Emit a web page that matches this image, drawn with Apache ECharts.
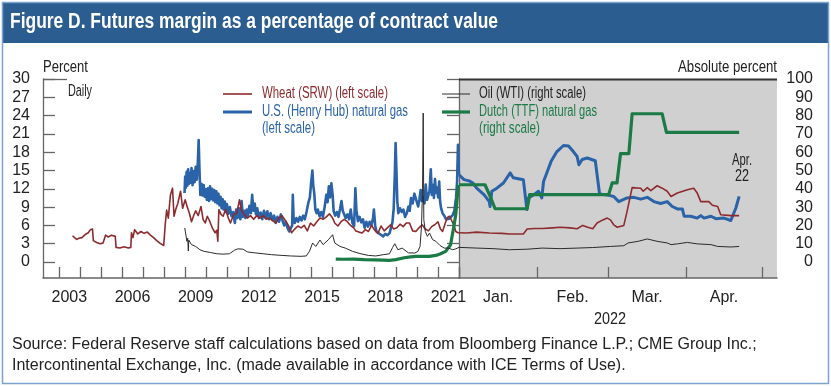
<!DOCTYPE html>
<html><head><meta charset="utf-8">
<script src="https://cdn.jsdelivr.net/npm/echarts@6/dist/echarts.min.js"></script>
<style>html,body{margin:0;padding:0;background:#fff}#c{width:831px;height:386px}</style>
</head><body><div id="c"></div>
<script>
// ---------- DATA ----------
// Historical segment: [year (fractional), value]
const wheatHist = [[2003.65,4.3],[2003.75,4.0],[2003.85,3.7],[2003.95,3.9],[2004.1,4.0],[2004.25,4.5],[2004.4,4.8],[2004.5,5.3],[2004.6,5.4],[2004.64,3.5],[2004.8,3.2],[2004.95,3.0],[2005.1,3.1],[2005.22,4.4],[2005.35,4.1],[2005.5,4.4],[2005.68,4.2],[2005.72,2.4],[2005.9,2.3],[2006.1,2.5],[2006.3,2.3],[2006.42,2.4],[2006.45,4.8],[2006.52,4.0],[2006.6,5.3],[2006.75,4.6],[2006.9,5.0],[2007.05,4.7],[2007.2,4.9],[2007.35,4.4],[2007.5,4.0],[2007.65,3.5],[2007.8,3.1],[2007.98,2.7],[2008.05,6.0],[2008.12,8.5],[2008.2,7.2],[2008.3,11.0],[2008.4,12.1],[2008.47,7.5],[2008.55,8.6],[2008.65,9.6],[2008.78,11.6],[2008.88,8.8],[2009.0,10.2],[2009.1,9.0],[2009.2,8.0],[2009.3,6.6],[2009.4,7.6],[2009.5,8.4],[2009.62,7.6],[2009.75,9.1],[2009.85,7.0],[2009.95,6.4],[2010.05,7.5],[2010.15,6.8],[2010.3,5.5],[2010.42,4.8],[2010.5,5.2],[2010.55,3.4],[2010.6,8.6],[2010.7,7.8],[2010.8,7.5],[2010.92,8.6],[2011.05,7.2],[2011.15,6.4],[2011.3,7.8],[2011.45,8.0],[2011.58,10.2],[2011.68,8.4],[2011.8,7.8],[2011.95,7.2],[2012.1,7.6],[2012.25,7.0],[2012.4,7.6],[2012.55,7.2],[2012.7,7.6],[2012.85,7.0],[2013.0,7.2],[2013.15,6.8],[2013.3,6.4],[2013.45,7.2],[2013.6,7.6],[2013.75,6.8],[2013.9,6.0],[2014.05,4.8],[2014.2,5.4],[2014.35,5.9],[2014.5,5.6],[2014.65,6.0],[2014.8,5.1],[2014.95,6.4],[2015.1,5.9],[2015.25,6.6],[2015.4,7.2],[2015.55,7.0],[2015.7,7.4],[2015.85,7.9],[2016.0,7.2],[2016.1,6.4],[2016.25,5.9],[2016.4,6.6],[2016.55,7.0],[2016.7,6.6],[2016.85,6.0],[2017.0,5.6],[2017.1,5.1],[2017.25,4.9],[2017.4,4.75],[2017.55,5.3],[2017.7,5.0],[2017.85,6.0],[2018.0,5.2],[2018.15,4.7],[2018.3,5.9],[2018.45,5.1],[2018.6,5.6],[2018.75,6.1],[2018.9,5.4],[2019.05,5.6],[2019.2,6.2],[2019.35,5.8],[2019.5,6.4],[2019.65,6.4],[2019.8,5.1],[2019.95,5.0],[2020.1,5.6],[2020.25,6.1],[2020.4,5.4],[2020.55,5.1],[2020.7,5.8],[2020.85,6.1],[2021.0,6.6],[2021.12,5.4],[2021.22,5.0],[2021.35,6.4],[2021.45,7.3],[2021.55,7.5],[2021.65,6.8],[2021.75,6.1],[2021.85,5.0],[2021.95,4.8],[2022.0,4.8]];
const gasHHHist = [[2008.97,11.3],[2009.0,14.0],[2009.03,12.2],[2009.07,14.8],[2009.1,12.5],[2009.14,15.2],[2009.18,12.8],[2009.22,14.6],[2009.26,13.0],[2009.3,15.4],[2009.35,12.6],[2009.4,14.9],[2009.45,13.1],[2009.5,15.6],[2009.55,13.5],[2009.6,16.2],[2009.64,20.0],[2009.68,15.0],[2009.72,11.0],[2009.78,12.8],[2009.83,10.9],[2009.88,12.6],[2009.93,10.7],[2009.98,11.9],[2010.03,10.2],[2010.08,12.1],[2010.13,10.0],[2010.18,12.4],[2010.23,10.3],[2010.28,12.0],[2010.33,10.1],[2010.38,11.8],[2010.43,9.8],[2010.48,11.6],[2010.53,9.6],[2010.58,11.2],[2010.63,9.3],[2010.68,10.7],[2010.73,8.8],[2010.78,10.3],[2010.83,8.6],[2010.88,9.9],[2010.93,8.2],[2010.98,9.5],[2011.05,7.9],[2011.12,9.0],[2011.2,7.5],[2011.28,8.2],[2011.36,6.4],[2011.42,8.6],[2011.48,7.2],[2011.55,8.8],[2011.62,7.0],[2011.68,10.0],[2011.74,7.4],[2011.8,8.4],[2011.86,7.2],[2011.92,8.6],[2011.98,7.6],[2012.05,9.2],[2012.12,8.0],[2012.18,11.0],[2012.24,8.4],[2012.3,9.6],[2012.36,7.8],[2012.42,8.8],[2012.5,7.2],[2012.58,8.1],[2012.66,7.0],[2012.74,8.4],[2012.82,7.2],[2012.9,8.3],[2012.98,7.0],[2013.06,8.0],[2013.14,6.9],[2013.22,7.6],[2013.3,6.4],[2013.38,7.4],[2013.46,6.6],[2013.54,7.8],[2013.62,6.8],[2013.7,6.0],[2013.78,6.6],[2013.86,5.6],[2013.94,5.0],[2014.02,4.75],[2014.08,6.0],[2014.11,11.0],[2014.15,7.0],[2014.2,6.4],[2014.28,7.2],[2014.36,6.6],[2014.44,7.4],[2014.52,6.8],[2014.6,7.6],[2014.68,7.0],[2014.76,8.2],[2014.84,9.6],[2014.92,10.6],[2014.98,13.0],[2015.04,15.0],[2015.08,12.6],[2015.13,11.2],[2015.18,8.6],[2015.24,8.0],[2015.3,8.6],[2015.38,7.5],[2015.46,8.2],[2015.54,7.4],[2015.62,9.0],[2015.7,11.0],[2015.76,9.8],[2015.82,12.4],[2015.88,10.6],[2015.94,12.9],[2016.0,11.0],[2016.05,8.3],[2016.12,7.6],[2016.2,8.2],[2016.28,7.4],[2016.36,8.8],[2016.42,10.0],[2016.48,8.4],[2016.55,8.6],[2016.62,7.2],[2016.7,7.8],[2016.78,7.0],[2016.86,8.6],[2016.94,6.4],[2017.02,5.9],[2017.08,12.1],[2017.13,8.5],[2017.2,6.7],[2017.28,7.4],[2017.36,6.5],[2017.44,7.0],[2017.52,5.6],[2017.6,6.6],[2017.68,5.8],[2017.76,6.6],[2017.84,6.0],[2017.92,7.2],[2017.96,8.6],[2018.02,6.0],[2018.08,5.0],[2018.16,5.2],[2018.24,4.6],[2018.32,4.8],[2018.4,4.2],[2018.5,4.6],[2018.6,4.4],[2018.7,4.7],[2018.78,4.4],[2018.84,6.5],[2018.9,8.8],[2018.95,14.0],[2018.99,19.5],[2019.03,15.0],[2019.07,10.0],[2019.12,8.0],[2019.2,8.8],[2019.28,8.2],[2019.36,8.6],[2019.44,7.4],[2019.52,8.0],[2019.6,9.1],[2019.66,8.4],[2019.72,10.5],[2019.8,9.6],[2019.88,11.2],[2019.95,11.3],[2020.0,9.8],[2020.06,9.1],[2020.12,10.2],[2020.18,11.8],[2020.24,10.0],[2020.3,10.6],[2020.36,9.6],[2020.42,12.7],[2020.48,10.2],[2020.54,9.9],[2020.6,11.6],[2020.66,15.2],[2020.71,11.0],[2020.76,12.6],[2020.81,10.5],[2020.86,13.6],[2020.91,11.3],[2020.96,12.2],[2021.01,10.6],[2021.06,13.2],[2021.1,10.0],[2021.15,8.8],[2021.22,8.0],[2021.3,7.6],[2021.38,7.0],[2021.46,6.7],[2021.54,7.1],[2021.62,6.8],[2021.7,7.7],[2021.78,8.4],[2021.86,10.5],[2021.91,13.2],[2021.95,19.2],[2021.98,15.5],[2022.0,14.3]];
const oilHist = [[2008.98,18.6],[2009.02,15.8],[2009.08,11.3],[2009.12,13.0],[2009.15,6.0],[2009.17,12.0],[2009.3,9.5],[2009.5,8.5],[2009.7,6.7],[2009.9,5.8],[2010.2,5.2],[2010.5,4.5],[2010.8,4.3],[2011.1,4.5],[2011.35,6.5],[2011.5,7.2],[2011.75,7.0],[2011.95,5.5],[2012.3,5.0],[2012.7,4.5],[2013.1,4.0],[2013.6,3.6],[2014.0,3.3],[2014.5,3.1],[2014.75,3.3],[2014.9,5.8],[2015.05,10.4],[2015.2,8.5],[2015.4,12.0],[2015.55,9.5],[2015.8,12.2],[2016.0,14.9],[2016.1,10.4],[2016.35,8.5],[2016.6,7.6],[2016.95,5.8],[2017.3,4.6],[2017.7,3.6],[2018.05,3.3],[2018.4,4.0],[2018.7,4.5],[2018.85,8.0],[2018.95,10.0],[2019.1,6.7],[2019.3,7.6],[2019.6,5.0],[2019.9,4.9],[2020.05,5.8],[2020.15,8.5],[2020.22,19.5],[2020.27,40.0],[2020.3,81.4],[2020.33,23.1],[2020.4,16.7],[2020.5,14.0],[2020.6,15.8],[2020.75,12.2],[2020.9,11.3],[2021.1,9.0],[2021.3,7.6],[2021.5,7.6],[2021.7,6.7],[2021.85,7.2],[2022.0,8.0]];
const ttfHist = [[2016.15,1.6],[2016.5,1.5],[2017.0,1.6],[2017.5,1.3],[2018.0,1.2],[2018.4,1.0],[2018.7,0.9],[2019.0,1.3],[2019.4,2.3],[2019.7,2.8],[2019.95,3.1],[2020.3,3.1],[2020.6,3.1],[2020.9,3.6],[2021.1,4.4],[2021.37,5.8],[2021.6,9.4],[2021.77,20.4],[2021.85,26.2],[2021.93,36.8],[2021.97,42.2],[2022.0,42.2]];
// 2022 segment: [day of year (Jan 1 = 0), value]
const wheat2022 = [[0,4.8],[3,4.75],[7,4.9],[12,4.75],[17,4.7],[20,4.6],[25.5,4.6],[27,5.4],[30,5.5],[33,5.5],[37,5.6],[40,5.7],[44,5.6],[46.8,5.45],[49,6.0],[51,5.7],[53,5.45],[54.7,6.4],[57,6.9],[58.7,7.2],[60,6.9],[61.3,6.1],[62.7,5.7],[65.3,6.0],[66.6,8.3],[68.6,12.2],[72,12.1],[73,11.6],[74.6,12.2],[76,11.7],[78.5,12.5],[80.5,12.1],[82.5,11.6],[84,10.75],[86.5,11.3],[90.5,11.85],[93,12.1],[94.4,11.3],[95.8,9.9],[99,9.9],[100.4,9.3],[102.5,9.1],[103.7,7.75],[107.7,7.6],[111,7.6]];
const gasHH2022 = [[0,14.3],[2,13.5],[4,13.3],[5.5,12.95],[7,12.1],[10,11.0],[12,9.9],[12.3,9.1],[13,11.6],[15,12.1],[17.6,12.95],[20.3,14.6],[21.5,13.8],[25.5,13.5],[26.9,8.6],[27.5,10.5],[29.5,11.0],[31.5,11.6],[32.8,10.5],[33.5,13.2],[35,14.85],[36.5,16.5],[38.8,18.1],[41.4,19.1],[43.4,19.0],[45.3,18.1],[46.8,17.3],[47.5,15.95],[48.8,16.8],[50.8,17.05],[54,16.6],[54.7,16.4],[55.7,11.15],[58.7,11.0],[61.3,10.75],[63.3,9.9],[66.6,10.5],[69.3,10.6],[72,10.3],[74.6,10.6],[77.2,9.9],[79.9,9.6],[82.5,9.9],[84.5,9.1],[86.5,8.7],[88.5,8.7],[89.2,7.5],[91.8,7.5],[94.4,7.2],[95.8,7.6],[97.1,7.2],[99.8,7.5],[101.8,7.1],[105,7.2],[107.7,6.8],[108.4,6.65],[109.7,8.85],[110.4,9.1],[111,10.75]];
const oil2022 = [[0,8.0],[7,7.6],[13.5,7.3],[20,6.7],[27,7.0],[33,7.6],[40,7.3],[46.8,7.6],[53,7.9],[60,8.5],[65.3,8.9],[67,10.4],[71,11.3],[74.6,12.6],[78.5,11.3],[82.5,10.4],[84,9.5],[86.5,9.9],[90.5,10.7],[94.4,9.9],[99.8,9.5],[102.5,8.5],[107.7,8.2],[111,8.5]];
const ttf2022 = [[0,42.2],[10.3,42.2],[12.3,36.0],[14.3,29.1],[27,29.1],[28,36.8],[59.3,36.8],[60.7,43.2],[62.6,43.2],[64,59.2],[67.3,59.2],[68.6,81.0],[80.5,81.0],[82.2,70.8],[111,70.8]];

const yearTicks = [2003,2004,2005,2006,2007,2008,2009,2010,2011,2012,2013,2014,2015,2016,2017,2018,2019,2020,2021,2022];
const yearLabels = [2003,2006,2009,2012,2015,2018,2021];
const monthTicks = [0,31,59,90,120];
const monthLabels = ['Jan.','Feb.','Mar.','Apr.'];
const monthMids = [15.5,45,74.5,105];
const leftTicks = [0,3,6,9,12,15,18,21,24,27,30];
const rightTicks = [0,10,20,30,40,50,60,70,80,90,100];

// ---------- STYLE ----------
const FONT = '"Liberation Sans", Arial, sans-serif';
const C_WHEAT = '#8e2b2f', C_HH = '#2a63a7', C_OIL = '#2a2a2a', C_TTF = '#1b7a45';
const AX = '#666', TXT = '#222';
const L_MIN = -30 * 16 / 183, R_MIN = -100 * 16 / 183;

const mctx = document.createElement('canvas').getContext('2d');
function fitScale(text, font, width) { mctx.font = font; return width / mctx.measureText(text).width; }
function ftext(text, x, y, size, width, color, align, bold, z) {
  const font = (bold ? 'bold ' : '') + size + 'px ' + FONT;
  return {type: 'text', x, y, scaleX: fitScale(text, font, width), z: z || 60,
    style: {text, fill: color || TXT, font, verticalAlign: 'middle', align: align || 'left'}};
}

const chart = echarts.init(document.getElementById('c'), null, {renderer: 'canvas'});

const yCommon = (min, max, show, pos, grid, ticks, lblOpts) => ({
  type: 'value', gridIndex: grid, position: pos, min: min, max: max, show: show,
  axisLine: {show: true, lineStyle: {color: AX, width: 1.3}},
  axisTick: {show: true, inside: true, length: 12, customValues: ticks, lineStyle: {color: AX, width: 1.3}},
  axisLabel: Object.assign({customValues: ticks, fontFamily: FONT, fontSize: 16, color: TXT}, lblOpts || {}),
  splitLine: {show: false}
});

const line = (name, data, xi, yi, color, width, z) => ({
  name, type: 'line', data, xAxisIndex: xi, yAxisIndex: yi, showSymbol: false, symbol: 'none',
  lineStyle: {color, width, join: 'round'}, z, animation: false, silent: true
});

chart.setOption({
  animation: false,
  grid: [
    {left: 43, right: 831 - 459, top: 79, bottom: 386 - 278, show: false},
    {left: 459, right: 831 - 777, top: 79, bottom: 386 - 278, show: true, backgroundColor: '#d0d0d0', borderWidth: 0}
  ],
  xAxis: [
    {type: 'value', gridIndex: 0, min: 2002.25, max: 2022,
      axisLine: {onZero: false, lineStyle: {color: AX, width: 1.5}},
      axisTick: {show: true, inside: true, length: 11, customValues: yearTicks, lineStyle: {color: AX, width: 1.3}},
      axisLabel: {customValues: yearLabels.map(y => y + 0.5), formatter: v => String(Math.floor(v)), fontFamily: FONT, fontSize: 16, color: TXT, margin: 12},
      splitLine: {show: false}},
    {type: 'value', gridIndex: 1, min: 0, max: 126,
      axisLine: {onZero: false, lineStyle: {color: AX, width: 1.5}},
      axisTick: {show: true, inside: true, length: 11, customValues: monthTicks, lineStyle: {color: AX, width: 1.3}},
      axisLabel: {customValues: monthMids, formatter: v => monthLabels[monthMids.indexOf(v)] || '', fontFamily: FONT, fontSize: 16, color: TXT, margin: 12},
      splitLine: {show: false}}
  ],
  yAxis: [
    yCommon(L_MIN, 30, true, 'left', 0, leftTicks, {margin: 13}),
    yCommon(R_MIN, 100, true, 'right', 1, rightTicks, {margin: 36, align: 'right'}),
    yCommon(R_MIN, 100, false, 'right', 0, rightTicks),
    yCommon(L_MIN, 30, false, 'left', 1, leftTicks)
  ],
  series: [
    line('U.S. (Henry Hub) natural gas', gasHHHist, 0, 0, C_HH, 2.6, 2),
    line('Wheat (SRW)', wheatHist, 0, 0, C_WHEAT, 1.6, 3),
    line('Dutch (TTF) natural gas', ttfHist, 0, 2, C_TTF, 3.2, 4),
    line('Oil (WTI)', oilHist, 0, 2, C_OIL, 1, 5),
    line('U.S. (Henry Hub) natural gas', gasHH2022, 1, 3, C_HH, 3, 2),
    line('Wheat (SRW)', wheat2022, 1, 3, C_WHEAT, 1.6, 3),
    line('Dutch (TTF) natural gas', ttf2022, 1, 1, C_TTF, 3.2, 4),
    line('Oil (WTI)', oil2022, 1, 1, C_OIL, 1, 5)
  ],
  graphic: [
    {type: 'rect', shape: {x: 2.5, y: 2.5, width: 826, height: 381}, style: {fill: 'none', stroke: '#7aa3cf', lineWidth: 1.5}, z: 100},
    {type: 'rect', shape: {x: 2, y: 2, width: 827, height: 41}, style: {fill: '#2b5d90'}, z: 99},
    ftext('Figure D. Futures margin as a percentage of contract value', 10, 22, 22, 488, '#fff', 'left', true, 101),
    {type: 'line', shape: {x1: 459, y1: 79.5, x2: 777, y2: 79.5}, style: {stroke: '#333', lineWidth: 2}, z: 50},
    {type: 'line', shape: {x1: 43, y1: 79.5, x2: 67, y2: 79.5}, style: {stroke: AX, lineWidth: 1.3}, z: 50},
    ftext('Percent', 43, 67, 17, 45),
    ftext('Absolute percent', 777, 67, 17, 99, TXT, 'right'),
    ftext('Daily', 68, 92, 16, 24),
    {type: 'line', shape: {x1: 223, y1: 94, x2: 252, y2: 94}, style: {stroke: C_WHEAT, lineWidth: 1.6}},
    ftext('Wheat (SRW) (left scale)', 262, 94, 16, 126, C_WHEAT),
    {type: 'line', shape: {x1: 223, y1: 112, x2: 252, y2: 112}, style: {stroke: C_HH, lineWidth: 3}},
    ftext('U.S. (Henry Hub) natural gas', 262, 112, 16, 146, C_HH),
    ftext('(left scale)', 262, 129, 16, 53, C_HH),
    {type: 'line', shape: {x1: 442, y1: 94, x2: 470, y2: 94}, style: {stroke: C_OIL, lineWidth: 1}, z: 60},
    ftext('Oil (WTI) (right scale)', 479, 94, 16, 107),
    {type: 'line', shape: {x1: 442, y1: 112, x2: 470, y2: 112}, style: {stroke: C_TTF, lineWidth: 3.2}, z: 60},
    ftext('Dutch (TTF) natural gas', 479, 112, 16, 118, C_TTF),
    ftext('(right scale)', 479, 129, 16, 61, C_TTF),
    ftext('Apr.', 742, 161, 16, 20, TXT, 'center'),
    ftext('22', 742, 177, 16, 14, TXT, 'center'),
    ftext('2022', 610, 320, 16, 32, TXT, 'center'),
    {type: 'text', x: 12, y: 345, style: {text: 'Source: Federal Reserve staff calculations based on data from Bloomberg Finance L.P.; CME Group Inc.;', fill: TXT, font: '16px ' + FONT, verticalAlign: 'middle'}},
    {type: 'text', x: 12, y: 366, style: {text: 'Intercontinental Exchange, Inc. (made available in accordance with ICE Terms of Use).', fill: TXT, font: '16px ' + FONT, verticalAlign: 'middle'}}
  ]
});
</script></body></html>
